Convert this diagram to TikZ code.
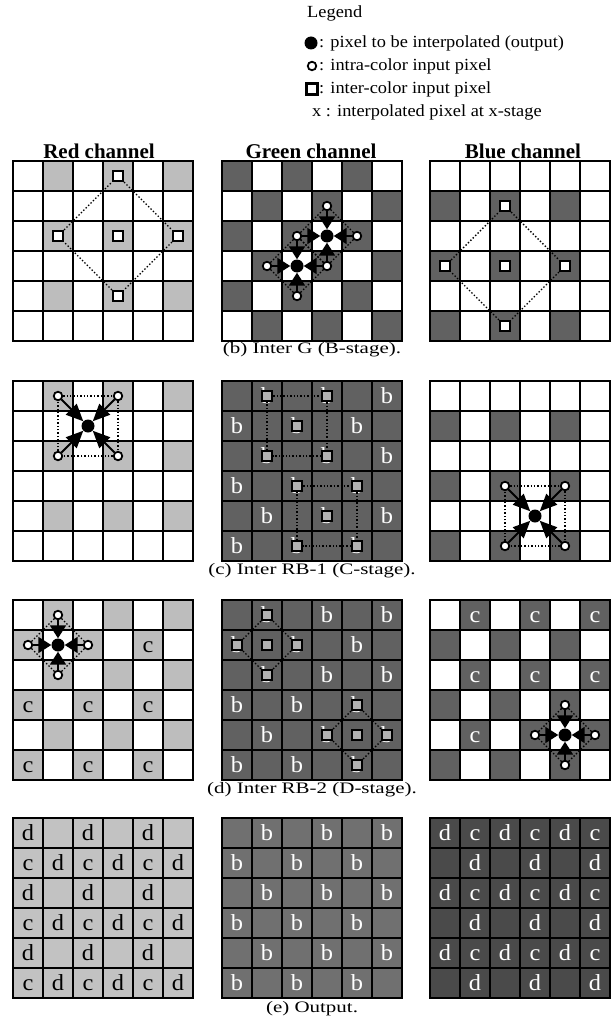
\documentclass[tikz,border=0pt]{standalone}
\usepackage{graphicx}
\usepackage{fontspec}
\setmainfont{Liberation Serif}
\usetikzlibrary{arrows.meta}
\definecolor{rl}{gray}{0.74}
\definecolor{gd}{gray}{0.38}
\definecolor{el}{gray}{0.76}
\definecolor{eg}{gray}{0.44}
\definecolor{eb}{gray}{0.29}
\newcommand{\legfont}{\fontsize{17}{17}\selectfont}
\newcommand{\hdfont}{\fontsize{21}{21}\selectfont\bfseries}
\newcommand{\capfont}{\fontsize{16}{16}\selectfont}
\newcommand{\wide}[2]{\scalebox{#1}[1]{#2}}
\tikzset{
  gridline/.style={line width=1.6pt, line cap=rect},
  circ/.style={circle, draw, fill=white, line width=1.8pt, inner sep=0pt, minimum size=8.5pt},
  dotn/.style={circle, fill=black, inner sep=0pt, minimum size=13pt},
  sq/.style={rectangle, draw, fill=white, line width=2.2pt, inner sep=0pt, minimum size=10pt},
  gsq/.style={sq, fill=black!30},
  dotl/.style={dotted, line width=1.4pt},
  arr/.style={line width=1.8pt, -{Triangle[length=13pt,width=16pt]}},
  darr/.style={line width=2pt, -{Triangle[length=17pt,width=15pt]}},
  letter/.style={inner sep=0pt, anchor=base, font=\fontsize{23}{23}\selectfont},
  captxt/.style={font=\capfont, inner sep=0pt},
  hdtxt/.style={font=\hdfont, inner sep=0pt},
  legtxt/.style={font=\legfont, anchor=west, inner sep=0pt},
  panel/.style={x=30pt, y=-30pt}
}
\newcommand{\panelgrid}{%
  \foreach \i in {1,...,5}{\draw[gridline] (\i,0) -- (\i,6); \draw[gridline] (0,\i) -- (6,\i);}
  \draw[line width=2.2pt] (0,0) rectangle (6,6);}
\newcommand{\fillcells}[2]{\edef\myfilllist{#2}\foreach \r/\c in \myfilllist {\fill[#1] (\c,\r) rectangle ++(1,1);}}
\newcommand{\lett}[4]{\edef\myletlist{#4}\foreach \r/\c in \myletlist {\node[letter,text=#2] (#1\r\c) at (\c+0.5,\r+0.76) {\wide{1.06}{#3}};}}
\newcommand{\redlist}{0/1,0/3,0/5,2/1,2/3,2/5,4/1,4/3,4/5}
\newcommand{\bluelist}{1/0,1/2,1/4,3/0,3/2,3/4,5/0,5/2,5/4}
\newcommand{\greenlist}{0/0,0/2,0/4,1/1,1/3,1/5,2/0,2/2,2/4,3/1,3/3,3/5,4/0,4/2,4/4,5/1,5/3,5/5}
\newcommand{\alllist}{\redlist,\bluelist,\greenlist}
\begin{document}
\begin{tikzpicture}[x=1pt, y=-1pt]
\useasboundingbox (0,0) rectangle (614,1024);
% Legend
\node[legtxt] (leg) at (307,13) {\wide{1.08}{Legend}};
\node[dotn] (l1s) at (311,43) {};
\node[legtxt] (l1) at (319,43) {\wide{1.08}{: pixel to be interpolated (output)}};
\node[circ] (l2s) at (312,66) {};
\node[legtxt] (l2) at (319,66) {\wide{1.08}{: intra-color input pixel}};
\node[sq, minimum size=11pt] (l3s) at (312,89) {};
\node[legtxt] (l3) at (319,89) {\wide{1.08}{: inter-color input pixel}};
\node[legtxt] (l4) at (312,112) {\wide{1.08}{x : interpolated pixel at x-stage}};
% Headers
\node[hdtxt] (hr) at (99,151) {Red channel};
\node[hdtxt] (hg) at (311,151) {Green channel};
\node[hdtxt] (hb) at (523,151) {Blue channel};
% ===== Row (b) =====
\begin{scope}[shift={(13pt,-161pt)}, panel]
  \fillcells{rl}{\redlist}
  \panelgrid
  \node[sq] (br03) at (3.5,0.5) {};
  \node[sq] (br21) at (1.5,2.5) {};
  \node[sq] (br23) at (3.5,2.5) {};
  \node[sq] (br25) at (5.5,2.5) {};
  \node[sq] (br43) at (3.5,4.5) {};
  \draw[dotl] (br03) -- (br25) -- (br43) -- (br21) -- (br03);
\end{scope}
\begin{scope}[shift={(222pt,-161pt)}, panel]
  \fillcells{gd}{\greenlist}
  \panelgrid
  \node[circ] (bg13) at (3.5,1.5) {};
  \node[circ] (bg22) at (2.5,2.5) {};
  \node[circ] (bg24) at (4.5,2.5) {};
  \node[circ] (bg33) at (3.5,3.5) {};
  \node[circ] (bg31) at (1.5,3.5) {};
  \node[circ] (bg42) at (2.5,4.5) {};
  \node[dotn] (bgA) at (3.5,2.5) {};
  \node[dotn] (bgB) at (2.5,3.5) {};
  \draw[dotl] (bg13) -- (bg24) -- (bg33) -- (bg22) -- (bg13);
  \draw[dotl] (bg22) -- (bg33) -- (bg42) -- (bg31) -- (bg22);
  \foreach \s in {bg13,bg24,bg33,bg22} \draw[arr] (\s) -- (bgA);
  \foreach \s in {bg22,bg33,bg42,bg31} \draw[arr] (\s) -- (bgB);
\end{scope}
\begin{scope}[shift={(430pt,-161pt)}, panel]
  \fillcells{gd}{\bluelist}
  \panelgrid
  \node[sq] (bb12) at (2.5,1.5) {};
  \node[sq] (bb30) at (0.5,3.5) {};
  \node[sq] (bb32) at (2.5,3.5) {};
  \node[sq] (bb34) at (4.5,3.5) {};
  \node[sq] (bb52) at (2.5,5.5) {};
  \draw[dotl] (bb12) -- (bb34) -- (bb52) -- (bb30) -- (bb12);
\end{scope}
\node[captxt] (capb) at (312,350) {\wide{1.31}{(b) Inter G (B-stage).}};
% ===== Row (c) =====
\begin{scope}[shift={(13pt,-381pt)}, panel]
  \fillcells{rl}{\redlist}
  \panelgrid
  \node[circ] (cr01) at (1.5,0.5) {};
  \node[circ] (cr03) at (3.5,0.5) {};
  \node[circ] (cr21) at (1.5,2.5) {};
  \node[circ] (cr23) at (3.5,2.5) {};
  \node[dotn] (crD) at (2.5,1.5) {};
  \draw[dotl] (cr01) -- (cr03) -- (cr23) -- (cr21) -- (cr01);
  \foreach \s in {cr01,cr03,cr21,cr23} \draw[darr] (\s) -- (crD);
\end{scope}
\begin{scope}[shift={(222pt,-381pt)}, panel]
  \fillcells{gd}{\alllist}
  \lett{cgL}{white}{b}{\redlist,\bluelist}
  \panelgrid
  \node[gsq] (cg01) at (1.5,0.5) {};
  \node[gsq] (cg03) at (3.5,0.5) {};
  \node[gsq] (cg21) at (1.5,2.5) {};
  \node[gsq] (cg23) at (3.5,2.5) {};
  \node[gsq] (cg12) at (2.5,1.5) {};
  \node[gsq] (cg32) at (2.5,3.5) {};
  \node[gsq] (cg34) at (4.5,3.5) {};
  \node[gsq] (cg52) at (2.5,5.5) {};
  \node[gsq] (cg54) at (4.5,5.5) {};
  \node[gsq] (cg43) at (3.5,4.5) {};
  \draw[dotl] (cg01) -- (cg03) -- (cg23) -- (cg21) -- (cg01);
  \draw[dotl] (cg32) -- (cg34) -- (cg54) -- (cg52) -- (cg32);
\end{scope}
\begin{scope}[shift={(430pt,-381pt)}, panel]
  \fillcells{gd}{\bluelist}
  \panelgrid
  \node[circ] (cb32) at (2.5,3.5) {};
  \node[circ] (cb34) at (4.5,3.5) {};
  \node[circ] (cb52) at (2.5,5.5) {};
  \node[circ] (cb54) at (4.5,5.5) {};
  \node[dotn] (cbD) at (3.5,4.5) {};
  \draw[dotl] (cb32) -- (cb34) -- (cb54) -- (cb52) -- (cb32);
  \foreach \s in {cb32,cb34,cb52,cb54} \draw[darr] (\s) -- (cbD);
\end{scope}
\node[captxt] (capc) at (312,571) {\wide{1.31}{(c) Inter RB-1 (C-stage).}};
% ===== Row (d) =====
\begin{scope}[shift={(13pt,-600pt)}, panel]
  \fillcells{rl}{\redlist,\bluelist}
  \lett{drL}{black}{c}{1/4,3/0,3/2,3/4,5/0,5/2,5/4}
  \panelgrid
  \node[circ] (dr01) at (1.5,0.5) {};
  \node[circ] (dr10) at (0.5,1.5) {};
  \node[circ] (dr12) at (2.5,1.5) {};
  \node[circ] (dr21) at (1.5,2.5) {};
  \node[dotn] (drD) at (1.5,1.5) {};
  \draw[dotl] (dr01) -- (dr12) -- (dr21) -- (dr10) -- (dr01);
  \foreach \s in {dr01,dr10,dr12,dr21} \draw[arr] (\s) -- (drD);
\end{scope}
\begin{scope}[shift={(222pt,-600pt)}, panel]
  \fillcells{gd}{\alllist}
  \lett{dgL}{white}{b}{\redlist,\bluelist}
  \panelgrid
  \node[gsq] (dg01) at (1.5,0.5) {};
  \node[gsq] (dg10) at (0.5,1.5) {};
  \node[gsq] (dg12) at (2.5,1.5) {};
  \node[gsq] (dg21) at (1.5,2.5) {};
  \node[gsq] (dg11) at (1.5,1.5) {};
  \node[gsq] (dg34) at (4.5,3.5) {};
  \node[gsq] (dg43) at (3.5,4.5) {};
  \node[gsq] (dg45) at (5.5,4.5) {};
  \node[gsq] (dg54) at (4.5,5.5) {};
  \node[gsq] (dg44) at (4.5,4.5) {};
  \draw[dotl] (dg01) -- (dg12) -- (dg21) -- (dg10) -- (dg01);
  \draw[dotl] (dg34) -- (dg45) -- (dg54) -- (dg43) -- (dg34);
\end{scope}
\begin{scope}[shift={(430pt,-600pt)}, panel]
  \fillcells{gd}{\redlist,\bluelist}
  \lett{dbL}{white}{c}{0/1,0/3,0/5,2/1,2/3,2/5,4/1}
  \panelgrid
  \node[circ] (db34) at (4.5,3.5) {};
  \node[circ] (db43) at (3.5,4.5) {};
  \node[circ] (db45) at (5.5,4.5) {};
  \node[circ] (db54) at (4.5,5.5) {};
  \node[dotn] (dbD) at (4.5,4.5) {};
  \draw[dotl] (db34) -- (db45) -- (db54) -- (db43) -- (db34);
  \foreach \s in {db34,db43,db45,db54} \draw[arr] (\s) -- (dbD);
\end{scope}
\node[captxt] (capd) at (312,790) {\wide{1.31}{(d) Inter RB-2 (D-stage).}};
% ===== Row (e) =====
\begin{scope}[shift={(13pt,-818pt)}, panel]
  \fillcells{el}{\alllist}
  \lett{erd}{black}{d}{\greenlist}
  \lett{erc}{black}{c}{\bluelist}
  \panelgrid
\end{scope}
\begin{scope}[shift={(222pt,-818pt)}, panel]
  \fillcells{eg}{\alllist}
  \lett{egL}{white}{b}{\redlist,\bluelist}
  \panelgrid
\end{scope}
\begin{scope}[shift={(430pt,-818pt)}, panel]
  \fillcells{eb}{\alllist}
  \lett{ebd}{white}{d}{\greenlist}
  \lett{ebc}{white}{c}{\redlist}
  \panelgrid
\end{scope}
\node[captxt] (cape) at (312,1009) {\wide{1.31}{(e) Output.}};
\end{tikzpicture}
\end{document}
